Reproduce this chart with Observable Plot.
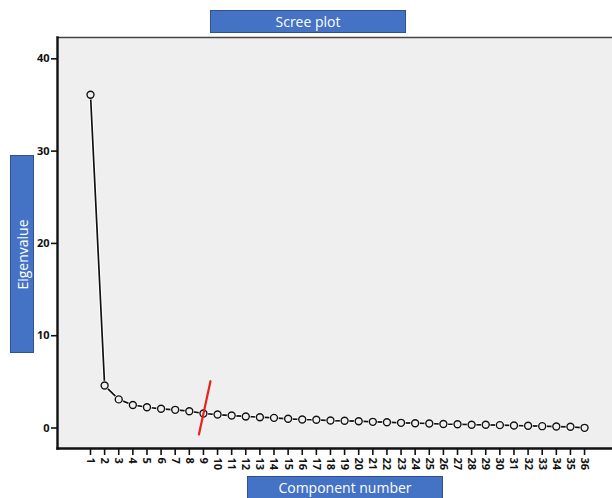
<!DOCTYPE html>
<html>
<head>
<meta charset="utf-8">
<script src="https://cdn.jsdelivr.net/npm/d3@7"></script>
<script src="https://cdn.jsdelivr.net/npm/@observablehq/plot@0.6"></script>
<style>
  html, body { margin: 0; padding: 0; background: #fff; }
  #wrap { position: relative; width: 612px; height: 498px; overflow: hidden; font-family: "Open Sans", "Liberation Sans", sans-serif; }
  .box { position: absolute; background: #4472C4; border: 1px solid #2F528F; color: #fff; font-size: 14px; display: flex; align-items: center; justify-content: center; box-sizing: border-box; }
  #ylab span { transform: rotate(-90deg); white-space: nowrap; display: block; }
</style>
</head>
<body>
<div id="wrap">
  <div id="chart"></div>
  <div class="box" id="title" style="left:210px;top:10px;width:196px;height:23px;">Scree plot</div>
  <div class="box" id="ylab" style="left:10px;top:155px;width:24px;height:198px;"><span>Eigenvalue</span></div>
  <div class="box" id="xlab" style="left:247px;top:476px;width:196px;height:26px;padding-bottom:4px;">Component number</div>
</div>
<script>
const components = d3.range(1, 37);
const eigenvalues = [36.1, 4.6, 3.1, 2.5, 2.25, 2.08, 1.97, 1.82, 1.57, 1.46,
  1.35, 1.25, 1.17, 1.1, 1.0, 0.92, 0.89, 0.81, 0.78, 0.74,
  0.67, 0.63, 0.56, 0.52, 0.49, 0.43, 0.41, 0.36, 0.35, 0.31,
  0.27, 0.24, 0.2, 0.16, 0.13, 0.02];
const yTicks = [0, 10, 20, 30, 40];
const cutX = [9.5, 8.68];
const cutY = [5.07, -0.7];

const data = components.map((c, i) => ({component: c, eigen: eigenvalues[i]}));
const cut = cutX.map((x, i) => ({x, y: cutY[i]}));

const plot = Plot.plot({
  width: 612,
  height: 498,
  marginTop: 37,
  marginLeft: 57,
  marginRight: 0,
  marginBottom: 50,
  style: {fontFamily: "'Open Sans', 'Liberation Sans', sans-serif", fontSize: "11px", color: "#111", background: "#fff"},
  x: {domain: [-1.338, 37.98], ticks: components, tickFormat: d => String(d)},
  y: {domain: [-2.22, 42.31], ticks: yTicks},
  marks: [
    Plot.frame({fill: "#efefef", stroke: "none"}),
    Plot.frame({anchor: "top", stroke: "#444", strokeWidth: 1.6}),
    Plot.frame({anchor: "left", stroke: "#111", strokeWidth: 2.4}),
    Plot.frame({anchor: "bottom", stroke: "#111", strokeWidth: 2.4}),
    Plot.axisX({ticks: components, tickFormat: d => String(d), tickRotate: 90, tickSize: 7, tickPadding: 2, label: null, stroke: "#111", strokeWidth: 1.6, fill: "#111", fontWeight: "bold"}),
    Plot.axisY({ticks: yTicks, tickSize: 6, tickPadding: 2, label: null, stroke: "#111", strokeWidth: 1.6, fill: "#111", fontWeight: "bold"}),
    Plot.line(data, {x: "component", y: "eigen", stroke: "#fff", strokeWidth: 3.8}),
    Plot.line(data, {x: "component", y: "eigen", stroke: "#111", strokeWidth: 1.7}),
    Plot.dot(data, {x: "component", y: "eigen", r: 4.8, fill: "#fff", stroke: "none"}),
    Plot.dot(data, {x: "component", y: "eigen", r: 3.5, fill: "#efefef", stroke: "#111", strokeWidth: 1.4}),
    Plot.line(cut, {x: "x", y: "y", stroke: "#e8231c", strokeWidth: 2.2})
  ]
});
document.getElementById("chart").appendChild(plot);
</script>
</body>
</html>
